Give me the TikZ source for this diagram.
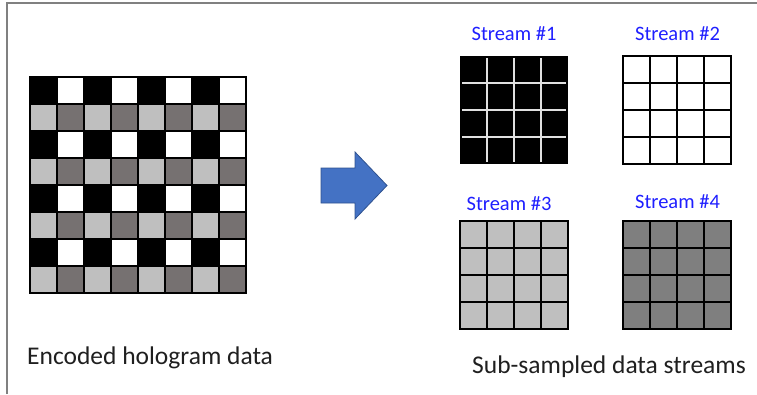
\documentclass[tikz,border=0pt]{standalone}
\usepackage{fontspec}
\setmainfont{Carlito}
\usepackage{xcolor}
\usepackage{tikz}
\definecolor{cellblack}{HTML}{000000}
\definecolor{celllight}{HTML}{BFBFBF}
\definecolor{celldark}{HTML}{767171}
\definecolor{streamdark}{HTML}{7F7F7F}
\definecolor{labelblue}{HTML}{1F1FFF}
\definecolor{arrowfill}{HTML}{4472C4}
\definecolor{arrowedge}{HTML}{2F528F}
\tikzset{
  cell/.style={draw=black, line width=1.3pt},
  gridline/.style={draw=white!88!black, line width=1.3pt},
  streamlabel/.style={font=\fontsize{20.5}{24}\selectfont, text=labelblue, inner sep=0pt},
  caption/.style={font=\fontsize{25.5}{30}\selectfont, text=black!88, inner sep=0pt},
  frame/.style={draw=gray, line width=1.5pt},
  bigarrow/.style={fill=arrowfill, draw=arrowedge, line width=0.8pt, line join=miter}
}

\begin{document}
\begin{tikzpicture}[x=1pt, y=-1pt]
\useasboundingbox (0,0) rectangle (757,394);

% Frame (top and left only)
\draw[frame] (7,394) -- (7,3) -- (757,3);

% Encoded hologram (8x8)
\foreach \r in {0,...,7} {
  \foreach \c in {0,...,7} {
    \pgfmathsetmacro{\ro}{int(mod(\r,2))}
    \pgfmathsetmacro{\co}{int(mod(\c,2))}
    \ifnum\ro=0
      \ifnum\co=0 \def\cellcol{cellblack}\else\def\cellcol{white}\fi
    \else
      \ifnum\co=0 \def\cellcol{celllight}\else\def\cellcol{celldark}\fi
    \fi
    \filldraw[cell, fill=\cellcol] (30+27*\c,77+27*\r) rectangle ++(27,27);
  }
}

% Stream #1 (black, light grid lines)
\fill[cellblack] (460,56) rectangle (568,164);
\foreach \k in {1,2,3} {
  \draw[gridline] (460+27*\k,58) -- (460+27*\k,162);
  \draw[gridline] (462,56+27*\k) -- (566,56+27*\k);
}

% Streams #2 to #4
\foreach \x/\y/\col in {623/56/white, 460/221/celllight, 623/221/streamdark} {
  \foreach \r in {0,...,3} {
    \foreach \c in {0,...,3} {
      \filldraw[cell, fill=\col] (\x+27*\c,\y+27*\r) rectangle ++(27,27);
    }
  }
}

% Block arrow
\filldraw[bigarrow] (321,168) -- (355,168) -- (355,152) -- (387,185.5)
  -- (355,219) -- (355,203) -- (321,203) -- cycle;

% Labels
\node[streamlabel, anchor=base] (s1) at (514,40) {Stream \#1};
\node[streamlabel, anchor=base] (s2) at (677.5,40) {Stream \#2};
\node[streamlabel, anchor=base] (s3) at (509,210) {Stream \#3};
\node[streamlabel, anchor=base] (s4) at (677.5,208) {Stream \#4};

\node[caption, anchor=base west] (encoded) at (27,364) {Encoded hologram data};
\node[caption, anchor=base west] (streams) at (472,373) {Sub-sampled data streams};

\end{tikzpicture}
\end{document}
